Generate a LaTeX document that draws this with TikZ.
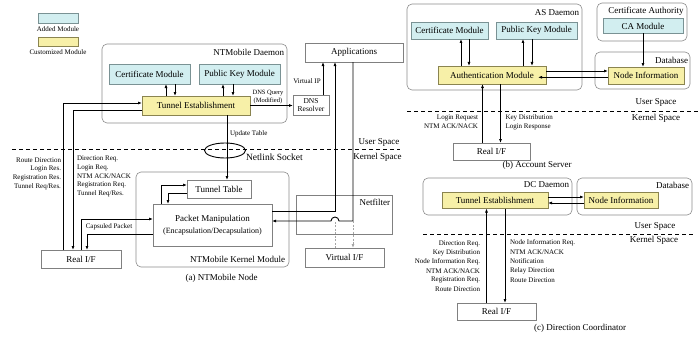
\documentclass[tikz,border=0pt]{standalone}
\usepackage{fontspec}
\setmainfont{Liberation Serif}
\usetikzlibrary{arrows.meta,shapes.geometric}
\definecolor{cyanF}{HTML}{D2EEF0}
\definecolor{cyanD}{HTML}{7A9294}
\definecolor{yelF}{HTML}{F7F0A8}
\definecolor{yelD}{HTML}{8A8450}
\definecolor{boxD}{HTML}{808080}
\definecolor{contD}{HTML}{8C8C8C}
\newcommand\myfs[2]{\fontsize{#1}{#2}\selectfont}
\begin{document}
\begin{tikzpicture}[x=1pt,y=-1pt,
  every node/.style={inner sep=0pt, outer sep=0pt},
  addbox/.style={draw=cyanD, fill=cyanF, line width=0.6pt, font=\myfs{9}{11}},
  cusbox/.style={draw=yelD, fill=yelF, line width=0.6pt, font=\myfs{9}{11}},
  plainbox/.style={draw=boxD, fill=white, line width=0.6pt, font=\myfs{9}{11}},
  cont/.style={draw=contD, rounded corners=5pt, line width=0.6pt},
  lbl/.style={font=\myfs{9}{11}},
  sml/.style={font=\myfs{7}{8}},
  arr/.style={line width=0.9pt, -{Latex[length=4pt,width=3pt]}},
  ln/.style={line width=0.9pt},
  spacedash/.style={line width=0.9pt, dash pattern=on 4pt off 3pt},
  gdash/.style={draw=gray!70, line width=0.8pt, dash pattern=on 2pt off 1.5pt},
]
\path[use as bounding box, fill=white] (0,0) rectangle (698,337);

% legend
\node[addbox, minimum width=40pt, minimum height=9.5pt] (legAdd) at (58,18.5) {};
\node[sml] (legAddT) at (58,29) {Added Module};
\node[cusbox, minimum width=40pt, minimum height=9.5pt] (legCus) at (58,42) {};
\node[sml] (legCusT) at (58,52.5) {Customized Module};

% ===== (a) containers
\node[cont, minimum width=185pt, minimum height=79pt] (daemonA) at (194.5,83.5) {};
\node[lbl, anchor=east] (daemonAL) at (284,52) {NTMobile Daemon};
\node[cont, minimum width=153pt, minimum height=95pt] (kernA) at (212.5,219.5) {};
\node[lbl, anchor=east] (kernAL) at (285,259) {NTMobile Kernel Module};
\node[plainbox, minimum width=96pt, minimum height=39pt] (nf) at (344,214.5) {};
\node[lbl, anchor=east] (nfL) at (390,202) {Netfilter};

% (a) modules
\node[addbox, minimum width=81pt, minimum height=20pt] (certA) at (149.5,74) {Certificate Module};
\node[addbox, minimum width=81pt, minimum height=20pt] (pkA) at (239.5,74) {Public Key Module};
\node[cusbox, minimum width=108pt, minimum height=19pt] (teA) at (196,105.5) {Tunnel Establishment};
\node[plainbox, minimum width=36pt, minimum height=20pt, align=center, font=\myfs{7.5}{8.5}] (dns) at (311,105) {DNS\\Resolver};
\node[plainbox, minimum width=98pt, minimum height=19pt] (appA) at (354,52.5) {Applications};
\node[plainbox, minimum width=64pt, minimum height=18pt] (ttA) at (219,189) {Tunnel Table};
\node[plainbox, minimum width=119pt, minimum height=42pt, align=center] (pmA) at (212.5,225) {Packet Manipulation\\[1pt]{\myfs{8}{9}(Encapsulation/Decapsulation)}};
\node[plainbox, minimum width=80pt, minimum height=18pt] (rifA) at (81,259) {Real I/F};
\node[plainbox, minimum width=79pt, minimum height=19pt] (vif) at (344.5,257.5) {Virtual I/F};

% (a) user/kernel boundary
\coordinate (dA1) at (12,149);
\coordinate (dA2) at (400,149);
\draw[spacedash] (dA1) -- (dA2);
\node[lbl] (usA) at (379,142) {User Space};
\node[lbl] (ksA) at (377.5,157) {Kernel Space};
\node[draw, ellipse, line width=0.9pt, minimum width=41pt, minimum height=15pt] (nlA) at (225,150.5) {};
\node[font=\myfs{9.5}{11}, anchor=west] (nlL) at (246,157) {Netlink Socket};

% (a) connectors
\draw[arr] ([xshift=16.5pt]certA.south |- teA.north) -- ([xshift=16.5pt]certA.south);
\draw[arr] ([xshift=25.5pt]certA.south) -- ([xshift=25.5pt]certA.south |- teA.north);
\draw[arr] ([xshift=-16.5pt]pkA.south |- teA.north) -- ([xshift=-16.5pt]pkA.south);
\draw[arr] ([xshift=-6.5pt]pkA.south) -- ([xshift=-6.5pt]pkA.south |- teA.north);
\draw[arr] (teA.east) -- (teA.east -| dns.west);
\node[font=\myfs{6.5}{8}, align=center] (dnsq) at (268,97.5) {DNS Query\\(Modified)};
\draw[arr] ([xshift=12pt]dns.north) -- ([xshift=12pt]dns.north |- appA.south);
\node[sml] (vip) at (307,81) {Virtual IP};
\draw[arr] ([xshift=31pt]teA.south) -- ([xshift=31pt]teA.south |- ttA.north);
\node[sml, anchor=west] (upd) at (230,134) {Update Table};

\draw[arr] ([xshift=-18pt]rifA.north) |- ([yshift=2.5pt]teA.west);
\draw[arr] ([yshift=-4.5pt]teA.west) -| ([xshift=-8pt]rifA.north);
\draw[arr] ([xshift=-51.5pt]pmA.north) |- ([yshift=4pt]ttA.west);
\draw[arr] ([yshift=-4pt]ttA.west) -| ([xshift=-44.5pt]pmA.north);
\draw[arr] (rifA.north) |- ([yshift=6pt]pmA.west);
\draw[arr] ([yshift=-9pt]pmA.west) -| ([xshift=6pt]rifA.north);
\node[sml] (cap) at (109,227) {Capsuled Packet};

\coordinate (j1) at (335,211);
\coordinate (j2) at (353,221);
\coordinate (hopR) at (339,221);
\draw[arr] ([yshift=14pt]pmA.east) -- (j1) -- (j1 |- appA.south);
\draw[arr] (j2 |- appA.south) -- (j2) -- (hopR) arc[start angle=0, end angle=180, radius=4pt] -- ([yshift=4pt]pmA.east);
\draw[gdash, -{Latex[length=4pt,width=3pt]}] (j2) -- (j2 |- vif.north);
\draw[gdash] (j1 |- vif.north) -- (j1 |- hopR);

\foreach \t [count=\i] in {Route Direction, Login Res., Registration Res., Tunnel Req/Res.}
  \node[sml, anchor=east] (laL\i) at (61, 151+9*\i) {\t};
\foreach \t [count=\i] in {Direction Req., Login Req., NTM ACK/NACK, Registration Req., Tunnel Req/Res.}
  \node[sml, anchor=west] (laR\i) at (77, 150.25+8.75*\i) {\t};
\node[lbl] (capA) at (221.5,278) {(a) NTMobile Node};

% ===== (b) Account Server
\node[cont, minimum width=175pt, minimum height=86pt] (asD) at (494.5,47) {};
\node[lbl, anchor=east] (asDL) at (579,13) {AS Daemon};
\node[cont, minimum width=90pt, minimum height=38pt] (caB) at (642,22) {};
\node[lbl] (caBL) at (646,11.5) {Certificate Authority};
\node[addbox, minimum width=80pt, minimum height=15pt] (caMod) at (643,26) {CA Module};
\node[cont, minimum width=95pt, minimum height=37pt] (dbB) at (642.5,70.5) {};
\node[lbl, anchor=east] (dbBL) at (688,60) {Database};
\node[addbox, minimum width=77pt, minimum height=17pt] (certB) at (449.5,30.5) {Certificate Module};
\node[addbox, minimum width=81pt, minimum height=17pt] (pkB) at (536.5,30.5) {Public Key Module};
\node[cusbox, minimum width=108pt, minimum height=18pt] (auth) at (492,75) {Authentication Module};
\node[cusbox, minimum width=76pt, minimum height=17pt] (niB) at (646,75.5) {Node Information};
\node[plainbox, minimum width=77pt, minimum height=17pt] (rifB) at (491.5,151.5) {Real I/F};

\draw[arr] ([xshift=11.5pt]certB.south |- auth.north) -- ([xshift=11.5pt]certB.south);
\draw[arr] ([xshift=19.5pt]certB.south) -- ([xshift=19.5pt]certB.south |- auth.north);
\draw[arr] ([xshift=-13.5pt]pkB.south |- auth.north) -- ([xshift=-13.5pt]pkB.south);
\draw[arr] ([xshift=-4.5pt]pkB.south) -- ([xshift=-4.5pt]pkB.south |- auth.north);
\draw[arr] (caMod.south) -- (caMod.south |- niB.north);
\draw[arr] ([yshift=4pt]auth.east) -- ([yshift=4pt]auth.east -| niB.west);
\draw[arr] ([yshift=-2.3pt]auth.east -| niB.west) -- ([xshift=-8pt,yshift=-2.3pt]auth.east);
\draw[arr] ([xshift=-9.5pt]auth.south |- rifB.north) -- ([xshift=-9.5pt]auth.south);
\draw[arr] ([xshift=8.5pt]auth.south) -- ([xshift=8.5pt]auth.south |- rifB.north);

\coordinate (dB1) at (407,111);
\coordinate (dB2) at (698,111);
\draw[spacedash] (dB1) -- (dB2);
\node[lbl] (usB) at (656,102.5) {User Space};
\node[lbl] (ksB) at (656,118.5) {Kernel Space};
\node[sml, anchor=east] (lbL1) at (478,117.5) {Login Request};
\node[sml, anchor=east] (lbL2) at (478,126.5) {NTM ACK/NACK};
\node[sml, anchor=west] (lbR1) at (505.5,117.5) {Key Distribution};
\node[sml, anchor=west] (lbR2) at (505.5,126.5) {Login Response};
\node[lbl] (capB) at (537,165.5) {(b) Account Server};

% ===== (c) Direction Coordinator
\node[cont, minimum width=149pt, minimum height=37pt] (dcD) at (497.5,196.5) {};
\node[lbl, anchor=east] (dcDL) at (569,185) {DC Daemon};
\node[cont, minimum width=115pt, minimum height=37pt] (dbC) at (634.5,196.5) {};
\node[lbl, anchor=east] (dbCL) at (689,185) {Database};
\node[cusbox, minimum width=106pt, minimum height=16pt] (teC) at (495,200.5) {Tunnel Establishment};
\node[cusbox, minimum width=74pt, minimum height=16pt] (niC) at (621,200.5) {Node Information};
\node[plainbox, minimum width=79pt, minimum height=17pt] (rifC) at (496.5,311.5) {Real I/F};

\draw[arr] ([yshift=3.5pt]teC.east) -- ([yshift=3.5pt]teC.east -| niC.west);
\draw[arr] ([yshift=-2.5pt]teC.east -| niC.west) -- ([yshift=-2.5pt]teC.east);
\draw[arr] ([xshift=-8.5pt]teC.south |- rifC.north) -- ([xshift=-8.5pt]teC.south);
\draw[arr] ([xshift=10pt]teC.south) -- ([xshift=10pt]teC.south |- rifC.north);

\coordinate (dC1) at (423,234);
\coordinate (dC2) at (693,234);
\draw[spacedash] (dC1) -- (dC2);
\node[lbl] (usC) at (655,226.5) {User Space};
\node[lbl] (ksC) at (654,240.5) {Kernel Space};
\foreach \t [count=\i] in {Direction Req., Key Distribution, Node Information Req., NTM ACK/NACK, Registration Req., Route Direction}
  \node[sml, anchor=east] (lcL\i) at (480, 235+9*\i) {\t};
\foreach \t [count=\i] in {Node Information Req., NTM ACK/NACK, Notification, Relay Direction, Route Direction}
  \node[sml, anchor=west] (lcR\i) at (510, 233.75+9.25*\i) {\t};
\node[lbl] (capC) at (580,328) {(c) Direction Coordinator};
\end{tikzpicture}
\end{document}
